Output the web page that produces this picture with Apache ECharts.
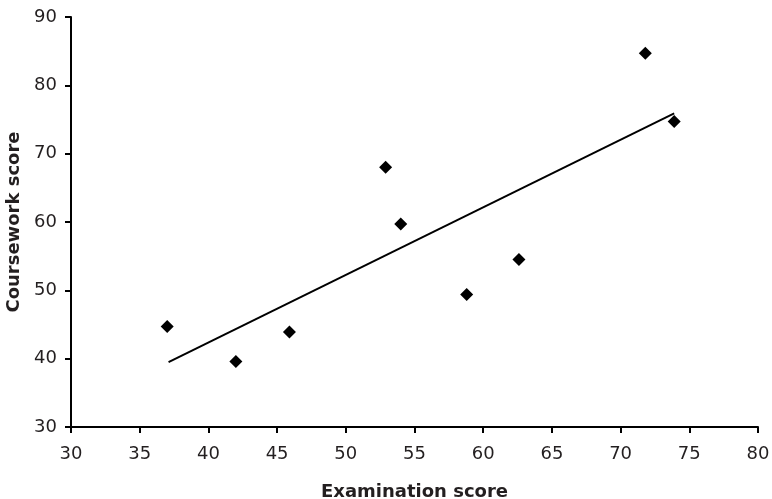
<!DOCTYPE html>
<html>
<head>
<meta charset="utf-8">
<script src="https://cdn.jsdelivr.net/npm/echarts@6/dist/echarts.min.js"></script>
<style>
html,body{margin:0;padding:0;background:#fff;}
#chart{width:772px;height:499px;}
</style>
</head>
<body>
<div id="chart"></div>
<script>
// Data
var examScores = [37.0, 42.0, 45.9, 52.9, 54.0, 58.8, 62.6, 71.8, 73.9];
var courseworkScores = [44.7, 39.6, 43.9, 68.0, 59.7, 49.4, 54.5, 84.7, 74.7];
var trendX = [37.1, 73.9];
var trendY = [39.5, 75.9];
var xTitle = 'Examination score';
var yTitle = 'Coursework score';

var points = examScores.map(function (x, i) { return [x, courseworkScores[i]]; });
var trend = trendX.map(function (x, i) { return [x, trendY[i]]; });

var textColor = '#231f20';
var font = 'DejaVu Sans';
var chart = echarts.init(document.getElementById('chart'), null, {renderer: 'canvas'});
chart.setOption({
  animation: false,
  backgroundColor: '#fff',
  grid: {left: 71, right: 14, top: 17, bottom: 72, containLabel: false, outerBoundsMode: 'none'},
  xAxis: {
    type: 'value', min: 30, max: 80, interval: 5,
    name: xTitle, nameLocation: 'middle', nameGap: 56,
    nameTextStyle: {fontFamily: font, fontSize: 18, fontWeight: 'bold', color: textColor},
    axisLine: {show: true, onZero: false, lineStyle: {color: '#000', width: 2}},
    axisTick: {show: true, inside: false, length: 6, lineStyle: {color: '#000', width: 2}},
    axisLabel: {fontFamily: font, fontSize: 18, color: textColor, margin: 18},
    splitLine: {show: false}
  },
  yAxis: {
    type: 'value', min: 30, max: 90, interval: 10,
    name: yTitle, nameLocation: 'middle', nameGap: 40, nameRotate: 90,
    nameTextStyle: {fontFamily: font, fontSize: 18, fontWeight: 'bold', color: textColor},
    axisLine: {show: true, onZero: false, lineStyle: {color: '#000', width: 2}},
    axisTick: {show: true, inside: false, length: 6, lineStyle: {color: '#000', width: 2}},
    axisLabel: {fontFamily: font, fontSize: 18, color: textColor, margin: 14},
    splitLine: {show: false}
  },
  series: [
    {
      type: 'line', data: trend, symbol: 'none',
      lineStyle: {color: '#000', width: 2}, z: 2
    },
    {
      type: 'scatter', data: points, symbol: 'diamond', symbolSize: 13,
      itemStyle: {color: '#000', opacity: 1}, z: 3
    }
  ]
});
</script>
</body>
</html>
